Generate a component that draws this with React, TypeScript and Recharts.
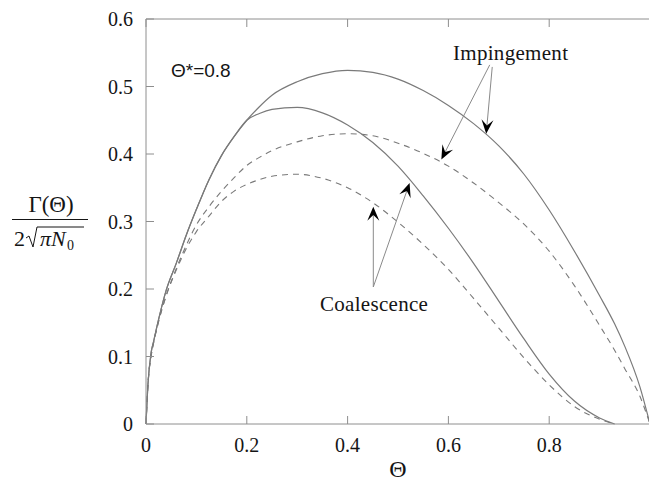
import { LineChart, Line, XAxis, YAxis, ReferenceLine } from "recharts";

// Θ grid shared by all four curves
const theta = [
  0, 0.004, 0.01, 0.015, 0.025, 0.04, 0.06, 0.08, 0.1, 0.125, 0.15, 0.175, 0.2,
  0.225, 0.25, 0.3, 0.35, 0.4, 0.45, 0.5, 0.55, 0.6, 0.65, 0.7, 0.75, 0.8, 0.85,
  0.9, 0.93, 0.95, 0.98, 1,
];

const impingementSolid = [
  0, 0.06, 0.105, 0.122, 0.155, 0.198, 0.238, 0.28, 0.318, 0.362, 0.398, 0.426, 0.45,
  0.47, 0.487, 0.507, 0.519, 0.524, 0.521, 0.511, 0.494, 0.472, 0.445, 0.412, 0.37,
  0.317, 0.256, 0.19, 0.148, 0.115, 0.055, 0,
];

const impingementDashed = [
  0, 0.06, 0.1, 0.12, 0.152, 0.19, 0.23, 0.265, 0.295, 0.322, 0.345, 0.365, 0.383,
  0.395, 0.405, 0.418, 0.427, 0.43, 0.427, 0.416, 0.401, 0.382, 0.357, 0.328, 0.296,
  0.256, 0.205, 0.146, 0.109, 0.082, 0.041, 0,
];

const coalescenceSolid = [
  0, 0.06, 0.105, 0.122, 0.155, 0.198, 0.238, 0.28, 0.318, 0.362, 0.398, 0.426, 0.45,
  0.46, 0.466, 0.469, 0.461, 0.443, 0.417, 0.382, 0.338, 0.29, 0.238, 0.182, 0.126,
  0.074, 0.034, 0.009, 0, null, null, null,
];

const coalescenceDashed = [
  0, 0.06, 0.1, 0.12, 0.152, 0.19, 0.228, 0.26, 0.285, 0.308, 0.33, 0.345, 0.355,
  0.362, 0.367, 0.37, 0.364, 0.35, 0.328, 0.299, 0.266, 0.229, 0.186, 0.142, 0.098,
  0.058, 0.026, 0.007, 0, null, null, null,
];

const xTicks = [0, 0.2, 0.4, 0.6, 0.8];
const yTicks = [0, 0.1, 0.2, 0.3, 0.4, 0.5, 0.6];

// annotation arrows, [Θ, Γ] from label to curve
const arrows = [
  { from: [0.682, 0.532], to: [0.586, 0.392] },
  { from: [0.687, 0.529], to: [0.675, 0.43] },
  { from: [0.451, 0.203], to: [0.451, 0.322] },
  { from: [0.451, 0.203], to: [0.523, 0.357] },
];

const data = theta.map((t, i) => ({
  t,
  impSolid: impingementSolid[i],
  impDash: impingementDashed[i],
  coaSolid: coalescenceSolid[i],
  coaDash: coalescenceDashed[i],
}));

const AXIS = "#8e8e8e";
const CURVE = "#7a7a7a";
const INK = "#151515";
const SERIF = '"Liberation Serif", "Times New Roman", serif';
const SANS = '"Liberation Sans", Arial, sans-serif';
const TICK = 8;

const fmt = (v: number) => (v === 0 ? "0" : v.toFixed(1));

const BottomTick = ({ x, y, payload }: any) => (
  <g>
    <line x1={x} y1={y} x2={x} y2={y - TICK} stroke={AXIS} />
    <text x={x} y={y + 28} textAnchor="middle" fontFamily={SERIF} fontSize={20} fill={INK}>
      {fmt(payload.value)}
    </text>
  </g>
);

const TopTick = ({ x, y }: any) => (
  <line x1={x} y1={y} x2={x} y2={y + TICK} stroke={AXIS} />
);

const LeftTick = ({ x, y, payload }: any) => (
  <g>
    <line x1={x} y1={y} x2={x + TICK} y2={y} stroke={AXIS} />
    <text x={x - 13} y={y + 7} textAnchor="end" fontFamily={SERIF} fontSize={20} fill={INK}>
      {fmt(payload.value)}
    </text>
  </g>
);

const RightTick = ({ x, y }: any) => (
  <line x1={x} y1={y} x2={x - TICK} y2={y} stroke={AXIS} />
);

const Arrow = ({ x1, y1, x2, y2 }: any) => {
  const dx = x2 - x1;
  const dy = y2 - y1;
  const len = Math.hypot(dx, dy) || 1;
  const ux = dx / len;
  const uy = dy / len;
  const head = 14;
  const half = 6;
  const bx = x2 - ux * head;
  const by = y2 - uy * head;
  const nx = x2 - ux * head * 0.6;
  const ny = y2 - uy * head * 0.6;
  const pts = [
    [x2, y2],
    [bx - uy * half, by + ux * half],
    [nx, ny],
    [bx + uy * half, by - ux * half],
  ]
    .map((p) => p.join(","))
    .join(" ");
  return (
    <g>
      <line x1={x1} y1={y1} x2={nx} y2={ny} stroke="#8a8a8a" strokeWidth={1} />
      <polygon points={pts} fill="#000" />
    </g>
  );
};

function Labels() {
  return (
    <svg
      width={649}
      height={482}
      style={{ position: "absolute", left: 0, top: 0, pointerEvents: "none" }}
    >
      {/* y-axis label: Γ(Θ) / 2√(πN₀) */}
      <text x={51} y={212} textAnchor="middle" fontFamily={SERIF} fontSize={23} fill={INK}>
        Γ(Θ)
      </text>
      <line x1={12} x2={88} y1={219.5} y2={219.5} stroke={INK} strokeWidth={1.2} />
      <text x={14} y={246} fontFamily={SERIF} fontSize={22} fill={INK}>
        2
      </text>
      <path d="M26,238 L29,236 L33,247 L37,227 L84,227" fill="none" stroke={INK} strokeWidth={1} />
      <text x={40} y={246} fontFamily={SERIF} fontStyle="italic" fontSize={22} fill={INK}>
        πN
      </text>
      <text x={67} y={250} fontFamily={SERIF} fontSize={14} fill={INK}>
        0
      </text>

      <text x={398} y={477} textAnchor="middle" fontFamily={SERIF} fontSize={24} fill={INK}>
        Θ
      </text>

      <text x={171} y={77} fontFamily={SANS} fontSize={19} fill={INK}>
        Θ*=0.8
      </text>
      <text x={453} y={60} fontFamily={SERIF} fontSize={21} fill={INK} letterSpacing={0.3}>
        Impingement
      </text>
      <text x={320} y={311} fontFamily={SERIF} fontSize={21} fill={INK} letterSpacing={0.3}>
        Coalescence
      </text>
    </svg>
  );
}

export default function App() {
  return (
    <div
      style={{
        position: "absolute",
        left: 0,
        top: 0,
        width: 649,
        height: 482,
        overflow: "hidden",
        background: "#fff",
      }}
    >
      <LineChart
        width={652}
        height={482}
        data={data}
        margin={{ top: 18, right: 1, bottom: 57, left: 0 }}
      >
        <XAxis
          dataKey="t"
          type="number"
          domain={[0, 1]}
          ticks={xTicks}
          height={1}
          tickSize={0}
          tickMargin={0}
          stroke={AXIS}
          tick={BottomTick}
          tickLine={false}
          interval={0}
        />
        <XAxis
          xAxisId="top"
          orientation="top"
          dataKey="t"
          type="number"
          domain={[0, 1]}
          ticks={xTicks}
          height={1}
          tickSize={0}
          tickMargin={0}
          stroke={AXIS}
          tick={TopTick}
          tickLine={false}
          interval={0}
        />
        <YAxis
          type="number"
          domain={[0, 0.6]}
          ticks={yTicks}
          width={146}
          tickSize={0}
          tickMargin={0}
          stroke={AXIS}
          tick={LeftTick}
          tickLine={false}
          interval={0}
        />
        <YAxis
          yAxisId="right"
          orientation="right"
          type="number"
          domain={[0, 0.6]}
          ticks={yTicks}
          width={1}
          tickSize={0}
          tickMargin={0}
          stroke={AXIS}
          tick={RightTick}
          tickLine={false}
          interval={0}
        />
        <Line type="monotone" dataKey="impDash" stroke={CURVE} strokeWidth={1.1} strokeDasharray="6 5" dot={false} isAnimationActive={false} />
        <Line type="monotone" dataKey="coaDash" stroke={CURVE} strokeWidth={1.1} strokeDasharray="6 5" dot={false} isAnimationActive={false} />
        <Line type="monotone" dataKey="impSolid" stroke={CURVE} strokeWidth={1.2} dot={false} isAnimationActive={false} />
        <Line type="monotone" dataKey="coaSolid" stroke={CURVE} strokeWidth={1.2} dot={false} isAnimationActive={false} />
        {arrows.map((a, i) => (
          <ReferenceLine
            key={i}
            segment={[
              { x: a.from[0], y: a.from[1] },
              { x: a.to[0], y: a.to[1] },
            ]}
            ifOverflow="visible"
            shape={Arrow}
          />
        ))}
      </LineChart>
      <Labels />
    </div>
  );
}
